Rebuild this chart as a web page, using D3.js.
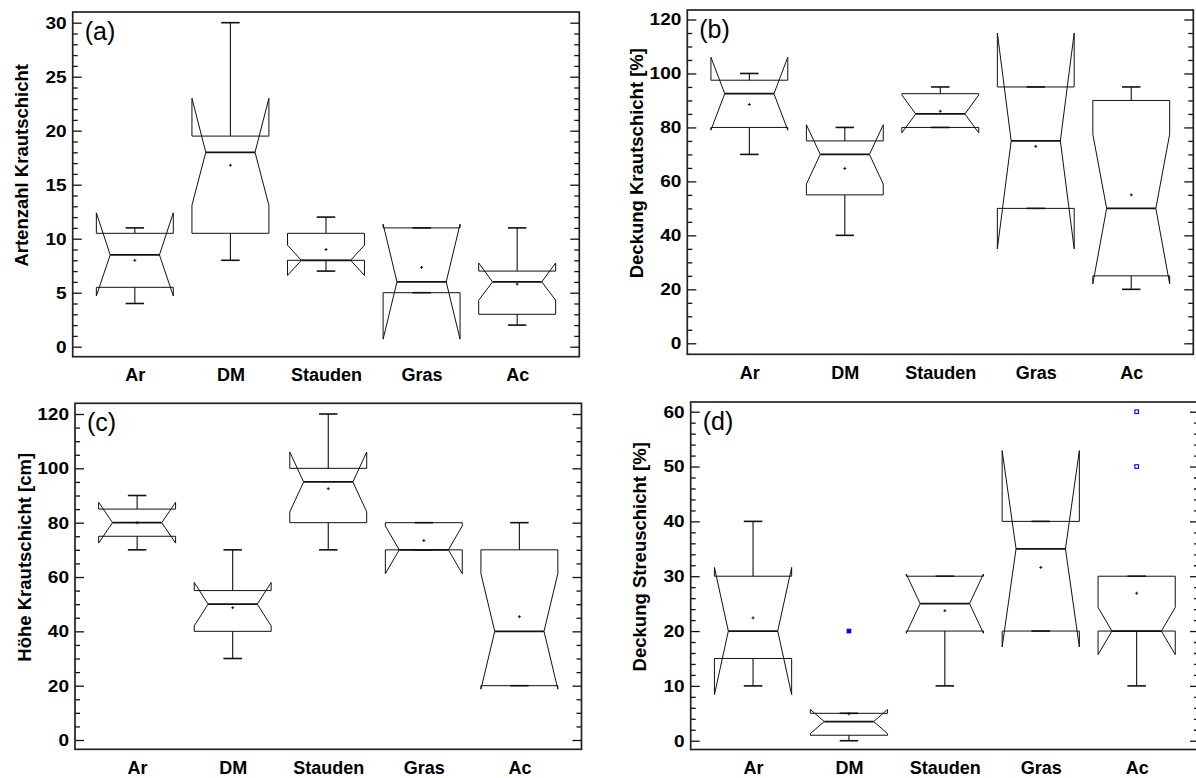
<!DOCTYPE html>
<html><head><meta charset="utf-8">
<script src="https://cdn.jsdelivr.net/npm/d3@7"></script>
<style>
html,body{margin:0;padding:0;background:#fff;}
svg{display:block;}
text{font-family:"Liberation Sans",Arial,Helvetica,sans-serif;}
</style></head>
<body>
<svg id="chart" width="1196" height="778"></svg>
<script>
// ---------- DATA ----------
const categories = ["Ar", "DM", "Stauden", "Gras", "Ac"];

// (a) Artenzahl Krautschicht
const aWhiskLo = [4, 8, 7, 5, 2];
const aQ1      = [5.5, 10.5, 8, 5, 3];
const aMedian  = [8.5, 18, 8, 6, 6];
const aQ3      = [10.5, 19.5, 10.5, 11, 7];
const aWhiskHi = [11, 30, 12, 11, 11];
const aMean    = [8, 16.8, 9, 7.35, 5.8];
const aNotchLo = [4.7, 13.1, 6.6, 0.7, 4.3];
const aNotchHi = [12.4, 23, 9.4, 11.35, 7.75];
const aOutliers = [[], [], [], [], []];

// (b) Deckung Krautschicht [%]
const bWhiskLo = [70, 40, 80, 50, 20];
const bQ1      = [80, 55, 80, 50, 25];
const bMedian  = [92.5, 70, 85, 75, 50];
const bQ3      = [97.5, 75, 92.5, 95, 90];
const bWhiskHi = [100, 80, 95, 95, 95];
const bMean    = [88.5, 64.8, 86, 73, 55];
const bNotchLo = [79, 59, 78, 35, 22];
const bNotchHi = [106, 81, 92, 115, 77.5];
const bOutliers = [[], [], [], [], []];

// (c) Höhe Krautschicht [cm]
const cWhiskLo = [70, 30, 70, 70, 20];
const cQ1      = [75, 40, 80, 70, 20];
const cMedian  = [80, 50, 95, 70, 40];
const cQ3      = [85, 55, 100, 80, 70];
const cWhiskHi = [90, 70, 120, 80, 80];
const cMean    = [80, 48.7, 92.5, 73.4, 45.4];
const cNotchLo = [72.5, 42, 84, 61.2, 18.7];
const cNotchHi = [87.5, 58, 106, 78.8, 61.3];
const cOutliers = [[], [], [], [], []];

// (d) Deckung Streuschicht [%]
const dWhiskLo = [10, 0, 10, 20, 10];
const dQ1      = [15, 1, 20, 20, 20];
const dMedian  = [20, 3.5, 25, 35, 20];
const dQ3      = [30, 5, 30, 40, 30];
const dWhiskHi = [40, 5, 30, 40, 30];
const dMean    = [22.4, 4.9, 23.7, 31.6, 26.9];
const dNotchLo = [8.4, 1.3, 19.6, 17.1, 15.7];
const dNotchHi = [31.6, 5.7, 30.4, 52.9, 24.3];
const dOutliers = [[], [20], [], [], [50, 60]];

const aMajor = [0, 5, 10, 15, 20, 25, 30];
const bMajor = [0, 20, 40, 60, 80, 100, 120];
const cMajor = [0, 20, 40, 60, 80, 100, 120];
const dMajor = [0, 10, 20, 30, 40, 50, 60];

// ---------- LAYOUT ----------
const panels = [
  {tag:"(a)", title:"Artenzahl Krautschicht", left:72.7, right:579.3, top:12, bottom:356.7,
   yDomain:[-0.926, 30.99], major:aMajor, minorStep:1,
   lo:aWhiskLo, q1:aQ1, med:aMedian, q3:aQ3, hi:aWhiskHi, mean:aMean, nlo:aNotchLo, nhi:aNotchHi, out:aOutliers},
  {tag:"(b)", title:"Deckung Krautschicht [%]", left:687.3, right:1193.3, top:10, bottom:354.3,
   yDomain:[-4.08, 123.52], major:bMajor, minorStep:5,
   lo:bWhiskLo, q1:bQ1, med:bMedian, q3:bQ3, hi:bWhiskHi, mean:bMean, nlo:bNotchLo, nhi:bNotchHi, out:bOutliers},
  {tag:"(c)", title:"Höhe Krautschicht [cm]", left:75, right:581.5, top:403.3, bottom:749.3,
   yDomain:[-3.42, 123.94], major:cMajor, minorStep:5,
   lo:cWhiskLo, q1:cQ1, med:cMedian, q3:cQ3, hi:cWhiskHi, mean:cMean, nlo:cNotchLo, nhi:cNotchHi, out:cOutliers},
  {tag:"(d)", title:"Deckung Streuschicht [%]", left:690.7, right:1199, top:402, bottom:749.5,
   yDomain:[-1.6, 61.77], major:dMajor, minorStep:2,
   lo:dWhiskLo, q1:dQ1, med:dMedian, q3:dQ3, hi:dWhiskHi, mean:dMean, nlo:dNotchLo, nhi:dNotchHi, out:dOutliers}
];

const svg = d3.select("#chart");
svg.append("rect").attr("width",1196).attr("height",778).attr("fill","#fff");

const STRETCH = 1.12;

panels.forEach(p => {
  const g = svg.append("g");
  const x = d3.scalePoint().domain(categories).range([p.left, p.right]).padding(0.65);
  const y = d3.scaleLinear().domain(p.yDomain).range([p.bottom, p.top]);
  const maxV = p.major[p.major.length-1];
  const minor = d3.range(0, maxV + 1e-9, p.minorStep).filter(v => !p.major.includes(v));

  // minor ticks left/right
  g.append("g").attr("transform",`translate(${p.left},0)`)
    .call(d3.axisLeft(y).tickValues(minor).tickSizeInner(-5).tickSizeOuter(0).tickFormat(""))
    .call(s => s.select(".domain").remove());
  g.append("g").attr("transform",`translate(${p.right},0)`)
    .call(d3.axisRight(y).tickValues(minor).tickSizeInner(-5).tickSizeOuter(0).tickFormat(""))
    .call(s => s.select(".domain").remove());
  // major ticks left with labels
  const ax = g.append("g").attr("transform",`translate(${p.left},0)`)
    .call(d3.axisLeft(y).tickValues(p.major).tickSizeInner(-9).tickSizeOuter(0).tickPadding(6))
    .call(s => s.select(".domain").remove());
  ax.selectAll("text")
    .attr("font-size",17).attr("font-weight","bold").attr("fill","#000")
    .attr("font-family","Liberation Sans, Arial, sans-serif")
    .attr("x", -6/STRETCH).attr("transform",`scale(${STRETCH},1)`);
  g.append("g").attr("transform",`translate(${p.right},0)`)
    .call(d3.axisRight(y).tickValues(p.major).tickSizeInner(-9).tickSizeOuter(0).tickFormat(""))
    .call(s => s.select(".domain").remove());
  g.selectAll(".tick line").attr("stroke","#111").attr("stroke-width",1.3);

  // category labels
  const bx = g.append("g").attr("transform",`translate(0,${p.bottom})`)
    .call(d3.axisBottom(x).tickSize(0).tickPadding(11.5))
    .call(s => s.select(".domain").remove());
  bx.selectAll("text").attr("font-size",18).attr("font-weight","bold").attr("fill","#000")
    .attr("font-family","Liberation Sans, Arial, sans-serif");

  // frame
  g.append("rect").attr("x",p.left).attr("y",p.top)
    .attr("width",p.right-p.left).attr("height",p.bottom-p.top)
    .attr("fill","none").attr("stroke","#222").attr("stroke-width",1.7);

  // y title
  g.append("text")
    .attr("transform",`translate(${p.left-51},${(p.top+p.bottom)/2-19}) rotate(-90)`)
    .attr("text-anchor","middle").attr("dominant-baseline","central")
    .attr("font-size",18.5).attr("font-weight","bold").attr("fill","#000")
    .text(p.title);

  // panel tag
  g.append("text").attr("x",p.left+12).attr("y",p.top+28)
    .attr("font-size",25).attr("fill","#000").text(p.tag);

  // boxes
  const step = x.step();
  const bw = step*0.805;
  const inset = bw*0.18;
  const cap = bw*0.24;
  categories.forEach((c,i) => {
    const cx = x(c), L = cx - bw/2, R = cx + bw/2;
    const pts = [
      [L, y(p.q1[i])], [L, y(p.nlo[i])], [L+inset, y(p.med[i])], [L, y(p.nhi[i])], [L, y(p.q3[i])],
      [R, y(p.q3[i])], [R, y(p.nhi[i])], [R-inset, y(p.med[i])], [R, y(p.nlo[i])], [R, y(p.q1[i])]
    ];
    // whiskers
    g.append("line").attr("x1",cx).attr("x2",cx).attr("y1",y(p.q3[i])).attr("y2",y(p.hi[i]))
      .attr("stroke","#111").attr("stroke-width",1.1);
    g.append("line").attr("x1",cx).attr("x2",cx).attr("y1",y(p.q1[i])).attr("y2",y(p.lo[i]))
      .attr("stroke","#111").attr("stroke-width",1.1);
    g.append("line").attr("x1",cx-cap/2).attr("x2",cx+cap/2).attr("y1",y(p.hi[i])).attr("y2",y(p.hi[i]))
      .attr("stroke","#111").attr("stroke-width",1.6);
    g.append("line").attr("x1",cx-cap/2).attr("x2",cx+cap/2).attr("y1",y(p.lo[i])).attr("y2",y(p.lo[i]))
      .attr("stroke","#111").attr("stroke-width",1.6);
    // notched box
    g.append("path").attr("d", d3.line()(pts) + "Z")
      .attr("fill","none").attr("stroke","#111").attr("stroke-width",1);
    // median
    g.append("line").attr("x1",L+inset).attr("x2",R-inset).attr("y1",y(p.med[i])).attr("y2",y(p.med[i]))
      .attr("stroke","#111").attr("stroke-width",1.8);
    // mean marker
    const my = y(p.mean[i]);
    g.append("path").attr("d",`M${cx-1.5},${my}H${cx+1.5}M${cx},${my-1.5}V${my+1.5}`)
      .attr("stroke","#000").attr("stroke-width",0.9);
    // outliers
    p.out[i].forEach(v => {
      g.append("rect").attr("x",cx-1.8).attr("y",y(v)-1.8).attr("width",3.6).attr("height",3.6)
        .attr("fill", c === "DM" ? "#0000ff" : "#fff").attr("stroke","#0000ff").attr("stroke-width",1.1);
    });
  });
});
</script>
</body></html>
